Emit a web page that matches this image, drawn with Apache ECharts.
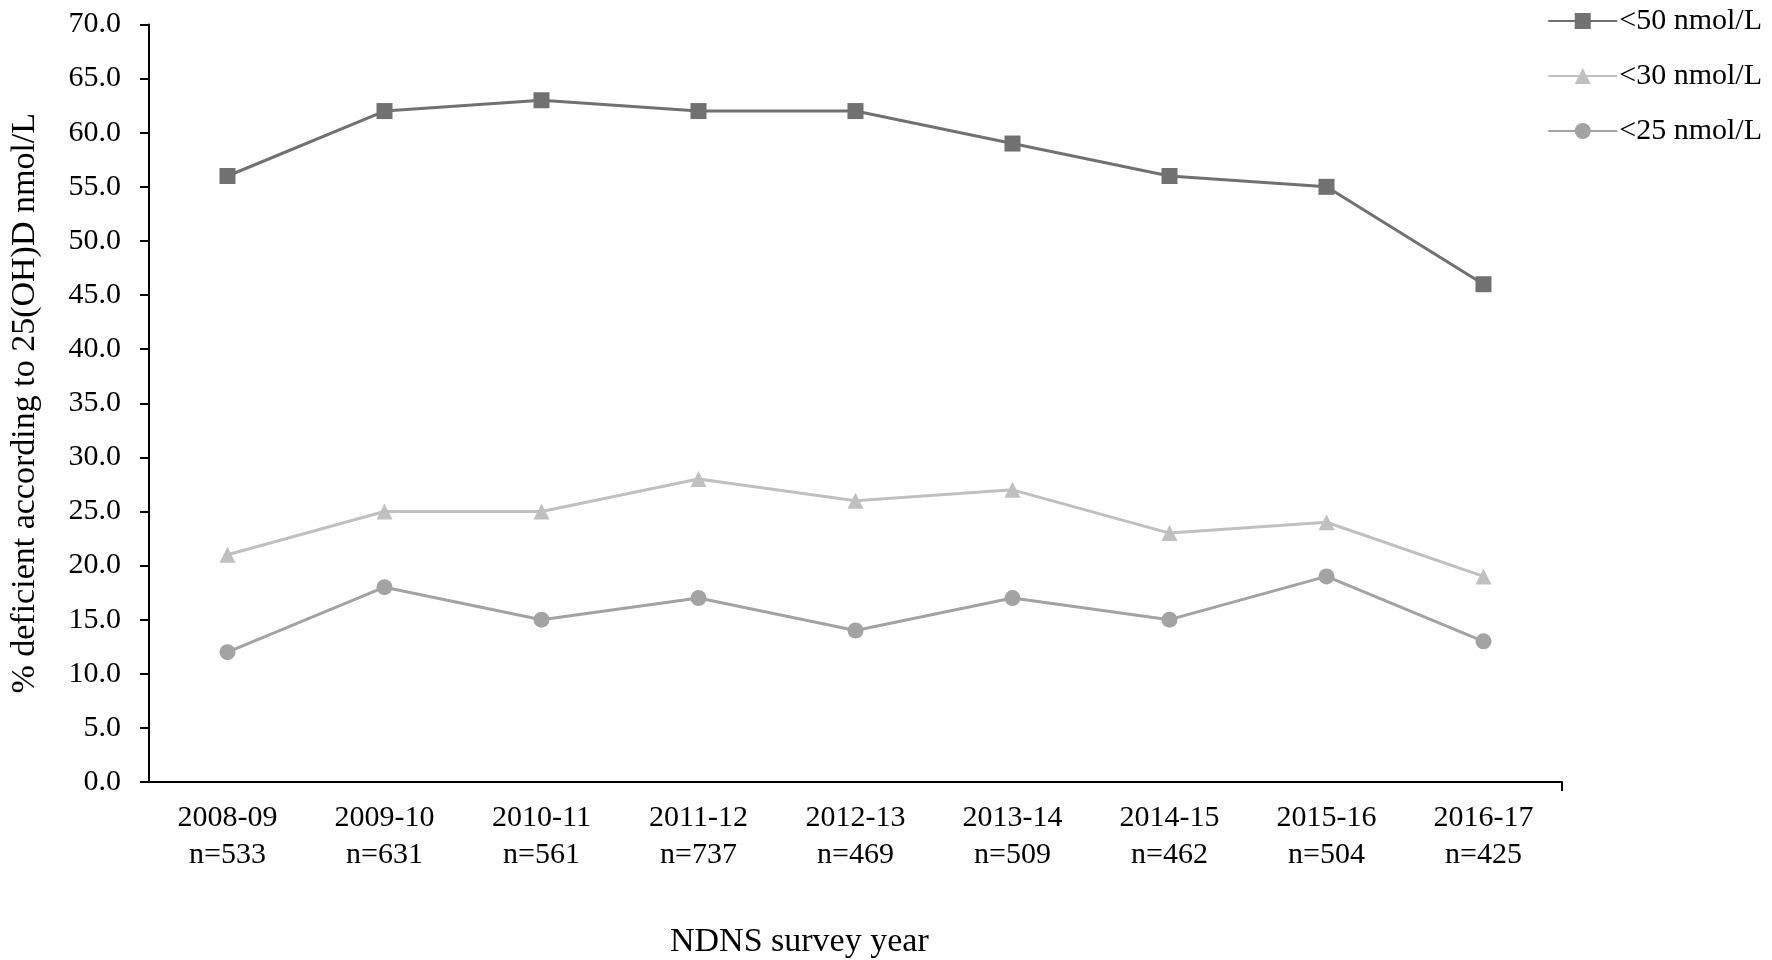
<!DOCTYPE html>
<html>
<head>
<meta charset="utf-8">
<script src="https://cdn.jsdelivr.net/npm/echarts@6/dist/echarts.min.js"></script>
<style>
html,body{margin:0;padding:0;background:#fff;}
#chart{width:1772px;height:960px;}
</style>
</head>
<body>
<div id="chart"></div>
<script>
const categories = ['2008-09\nn=533','2009-10\nn=631','2010-11\nn=561','2011-12\nn=737','2012-13\nn=469','2013-14\nn=509','2014-15\nn=462','2015-16\nn=504','2016-17\nn=425'];
const below50 = [56, 62, 63, 62, 62, 59, 56, 55, 46];
const below30 = [21, 25, 25, 28, 26, 27, 23, 24, 19];
const below25 = [12, 18, 15, 17, 14, 17, 15, 19, 13];
const seriesNames = ['<50 nmol/L', '<30 nmol/L', '<25 nmol/L'];

const FONT = "'Liberation Serif', 'Times New Roman', serif";
const chart = echarts.init(document.getElementById('chart'));

function mk(name, data, color, symbol) {
  return {
    name: name, type: 'line', data: data,
    symbol: symbol, symbolSize: 16, showSymbol: true,
    lineStyle: {color: color, width: 3},
    itemStyle: {color: color},
    emphasis: {disabled: true}
  };
}

chart.setOption({
  backgroundColor: '#fff',
  animation: false,
  title: {
    text: 'NDNS survey year',
    left: 665, top: 920,
    textStyle: {fontFamily: FONT, fontSize: 34, fontWeight: 'normal', color: '#000'}
  },
  grid: {left: 128, right: 210, top: 24.5, bottom: 178},
  legend: {
    orient: 'vertical', right: 5, top: 1,
    itemWidth: 69, itemHeight: 20, itemGap: 25,
    data: seriesNames,
    textStyle: {fontFamily: FONT, fontSize: 30, color: '#000', lineHeight: 30, padding: [0,0,0,-3]}
  },
  xAxis: [{
    type: 'category', data: categories, boundaryGap: true,
    axisLine: {lineStyle: {color: '#000', width: 2}},
    axisTick: {alignWithLabel: true, length: 9, lineStyle: {color: '#000', width: 2}},
    axisLabel: {fontFamily: FONT, fontSize: 30, color: '#000', margin: 18, lineHeight: 37, interval: 0}
  }, {
    type: 'value', position: 'bottom', min: 0, max: categories.length,
    axisLine: {show: false}, splitLine: {show: false},
    axisLabel: {show: false},
    axisTick: {show: true, customValues: [categories.length], length: 9, lineStyle: {color: '#000', width: 2}}
  }],
  yAxis: {
    type: 'value', min: 0, max: 70, interval: 5,
    name: '% deficient according to 25(OH)D nmol/L',
    nameLocation: 'middle', nameGap: 107,
    nameTextStyle: {fontFamily: FONT, fontSize: 34, color: '#000'},
    splitLine: {show: false},
    axisLine: {show: true, lineStyle: {color: '#000', width: 2}},
    axisTick: {show: true, length: 9, lineStyle: {color: '#000', width: 2}},
    axisLabel: {fontFamily: FONT, fontSize: 30, color: '#000', margin: 28, formatter: v => v.toFixed(1)}
  },
  series: [
    mk(seriesNames[0], below50, '#717171', 'rect'),
    mk(seriesNames[1], below30, '#c0c0c0', 'triangle'),
    mk(seriesNames[2], below25, '#a3a3a3', 'circle')
  ]
});
</script>
</body>
</html>
